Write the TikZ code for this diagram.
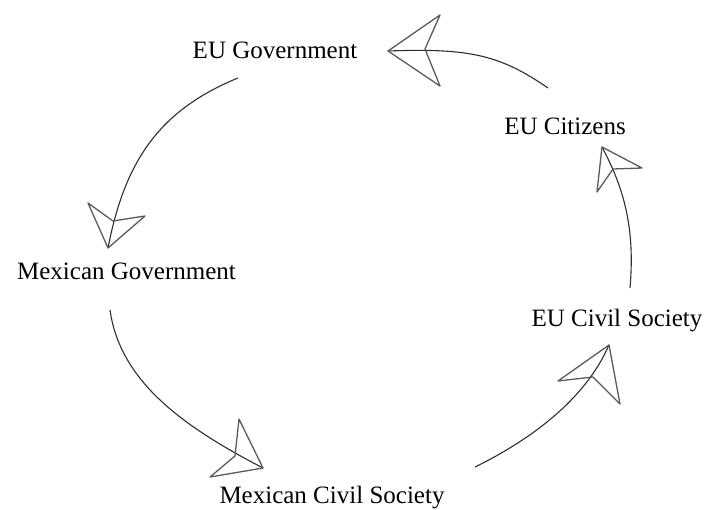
\documentclass[tikz,border=0pt]{standalone}
\usepackage{fontspec}
\setmainfont{Liberation Serif}
\definecolor{linec}{HTML}{2E2E2E}
\definecolor{headc}{HTML}{5A5A5A}
\tikzset{
  lbl/.style={anchor=base, inner sep=0pt, font=\fontsize{25}{30}\selectfont, text=black},
  conn/.style={draw=linec, line width=1.1pt},
  openhead/.style={draw=headc, line width=1.3pt, line join=round},
}
\begin{document}
\begin{tikzpicture}[x=1pt,y=-1pt]
\useasboundingbox (0,0) rectangle (704,509);
% labels
\node[lbl] (eugov) at (275,58) {EU Government};
\node[lbl] (eucit) at (565,134) {EU Citizens};
\node[lbl] (mexgov) at (126.5,279) {Mexican Government};
\node[lbl] (eucs) at (617,326) {EU Civil Society};
\node[lbl] (mexcs) at (332,503) {Mexican Civil Society};
% connector ends
\coordinate (s1) at (548,88);  \coordinate (e1) at (388,51);
\coordinate (s2) at (238,78);  \coordinate (e2) at (108,248);
\coordinate (s3) at (110,310); \coordinate (e3) at (263,468);
\coordinate (s4) at (475,467); \coordinate (e4) at (609,345);
\coordinate (s5) at (630,288); \coordinate (e5) at (602,147);
% connector lines
\draw[conn] (s1) .. controls (500,55) and (470,48) .. (e1);
\draw[conn] (s2) .. controls (160,110) and (125,160) .. (e2);
\draw[conn] (s3) .. controls (120,380) and (180,425) .. (e3);
\draw[conn] (s4) .. controls (530,440) and (585,400) .. (e4);
\draw[conn] (s5) .. controls (635,230) and (625,190) .. (e5);
% open arrowheads
\draw[openhead] (e1) -- (440,15) -- (425,49) -- (440,86) -- cycle;
\draw[openhead] (e2) -- (88,203) -- (113,221) -- (145,216) -- cycle;
\draw[openhead] (e3) -- (239,419) -- (235,456) -- (210,477) -- cycle;
\draw[openhead] (e4) -- (558,381) -- (593,377) -- (620,404) -- cycle;
\draw[openhead] (e5) -- (597,192) -- (613,169) -- (642,168) -- cycle;
\end{tikzpicture}
\end{document}
